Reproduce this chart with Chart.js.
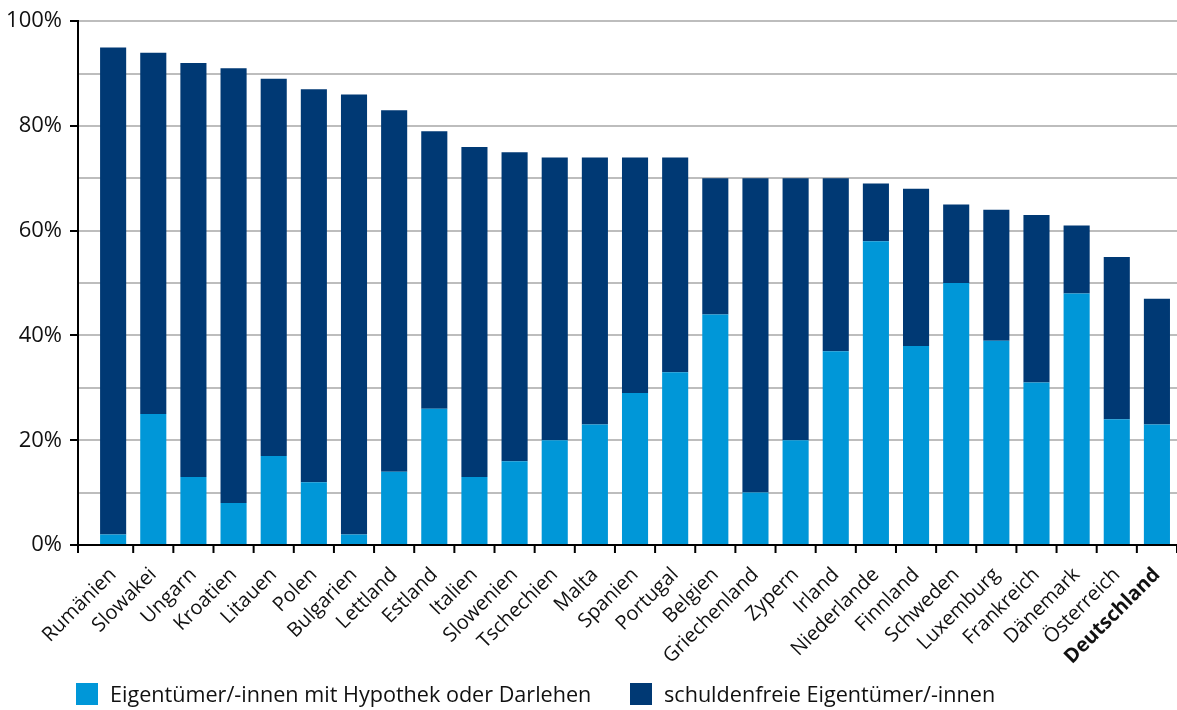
<!DOCTYPE html>
<html lang="de">
<head>
<meta charset="UTF-8">
<title>Wohneigentum in der EU</title>
<script src="https://cdn.jsdelivr.net/npm/chart.js"></script>
<style>
  body { margin: 0; background: #fff; font-family: 'Open Sans', sans-serif; }
  #wrap { position: relative; width: 1177px; height: 710px; }
  #legend { position: absolute; left: 0; top: 683px; width: 100%; height: 24px; font-size: 21.6px; color: #111; }
  .item { position: absolute; top: 0; display: flex; align-items: center; white-space: nowrap; line-height: 22px; }
  .box { width: 22px; height: 22px; margin-right: 12px; }
</style>
</head>
<body>
<div id="wrap">
  <canvas id="chart" width="1177" height="710"></canvas>
  <div id="legend"></div>
</div>
<script>
const categories = ['Rumänien', 'Slowakei', 'Ungarn', 'Kroatien', 'Litauen', 'Polen', 'Bulgarien',
  'Lettland', 'Estland', 'Italien', 'Slowenien', 'Tschechien', 'Malta', 'Spanien', 'Portugal',
  'Belgien', 'Griechenland', 'Zypern', 'Irland', 'Niederlande', 'Finnland', 'Schweden',
  'Luxemburg', 'Frankreich', 'Dänemark', 'Österreich', 'Deutschland'];
const mortgage = [2, 25, 13, 8, 17, 12, 2, 14, 26, 13, 16, 20, 23, 29, 33, 44, 10, 20, 37, 58, 38, 50, 39, 31, 48, 24, 23];
const debtFree = [93, 69, 79, 83, 72, 75, 84, 69, 53, 63, 59, 54, 51, 45, 41, 26, 60, 50, 33, 11, 30, 15, 25, 32, 13, 31, 24];
const seriesNames = ['Eigentümer/-innen mit Hypothek oder Darlehen', 'schuldenfreie Eigentümer/-innen'];
const yLabels = [0, 20, 40, 60, 80, 100];
const highlight = 'Deutschland';

const colors = ['#0097d8', '#003974'];
const font = 'Open Sans';

// small black marks between the countries, plus the y axis running a bit below zero
const xTickMarks = {
  id: 'xTickMarks',
  afterDatasetsDraw(chart) {
    const { ctx } = chart;
    const x = chart.scales.x;
    const marks = [x.left].concat(categories.map((_, i) => x.getPixelForValue(i + 0.5)));
    ctx.save();
    ctx.strokeStyle = '#000';
    ctx.lineWidth = 2;
    ctx.beginPath();
    marks.forEach(px => {
      ctx.moveTo(px, x.top);
      ctx.lineTo(px, x.top + 8);
    });
    ctx.stroke();
    ctx.restore();
  }
};

const toPoints = arr => arr.map((v, i) => ({ x: i, y: v }));

const chart = new Chart(document.getElementById('chart'), {
  type: 'bar',
  data: {
    datasets: [
      { label: seriesNames[0], data: toPoints(mortgage), backgroundColor: colors[0] },
      { label: seriesNames[1], data: toPoints(debtFree), backgroundColor: colors[1] }
    ]
  },
  options: {
    responsive: false,
    animation: false,
    categoryPercentage: 1,
    barPercentage: 0.65,
    layout: { padding: { top: 16, right: 0, bottom: 0, left: 0 } },
    plugins: {
      legend: { display: false },
      tooltip: { enabled: false }
    },
    scales: {
      x: {
        type: 'linear',
        stacked: true,
        offset: false,
        min: -0.875,
        max: 26.5,
        afterBuildTicks: scale => { scale.ticks = categories.map((_, i) => ({ value: i })); },
        afterFit: scale => {
          scale.height = 165;
          scale.paddingLeft = 0;
          scale.paddingRight = 0;
        },
        grid: { display: false },
        border: { display: true, color: '#000', width: 2, z: 1 },
        ticks: {
          autoSkip: false,
          maxRotation: 45,
          minRotation: 45,
          padding: 10,
          color: '#111',
          callback: v => categories[v],
          font: ctx => ({
            family: font,
            size: 20,
            weight: categories[ctx.index] === highlight ? 'bold' : 'normal'
          })
        }
      },
      y: {
        stacked: true,
        min: 0,
        max: 100,
        afterFit: scale => { scale.width = 78; },
        border: { display: true, color: '#000', width: 2, z: 1 },
        grid: {
          color: ctx => ctx.tick.value === 0 ? 'rgba(0,0,0,0)' : '#bdbdbd',
          lineWidth: 2,
          tickLength: 8,
          tickWidth: 2,
          tickColor: ctx => yLabels.includes(ctx.tick.value) ? '#000' : 'rgba(0,0,0,0)'
        },
        ticks: {
          stepSize: 10,
          padding: 8,
          color: '#111',
          font: { family: font, size: 22 },
          callback: v => yLabels.includes(v) ? v + '%' : ''
        }
      }
    }
  },
  plugins: [xTickMarks]
});

// legend below the axis labels
const legendLeft = [76, 630];
const legend = document.getElementById('legend');
chart.data.datasets.forEach((ds, i) => {
  const item = document.createElement('div');
  item.className = 'item';
  item.style.left = legendLeft[i] + 'px';
  item.innerHTML = `<span class="box" style="background:${ds.backgroundColor}"></span><span>${ds.label}</span>`;
  legend.appendChild(item);
});
</script>
</body>
</html>
